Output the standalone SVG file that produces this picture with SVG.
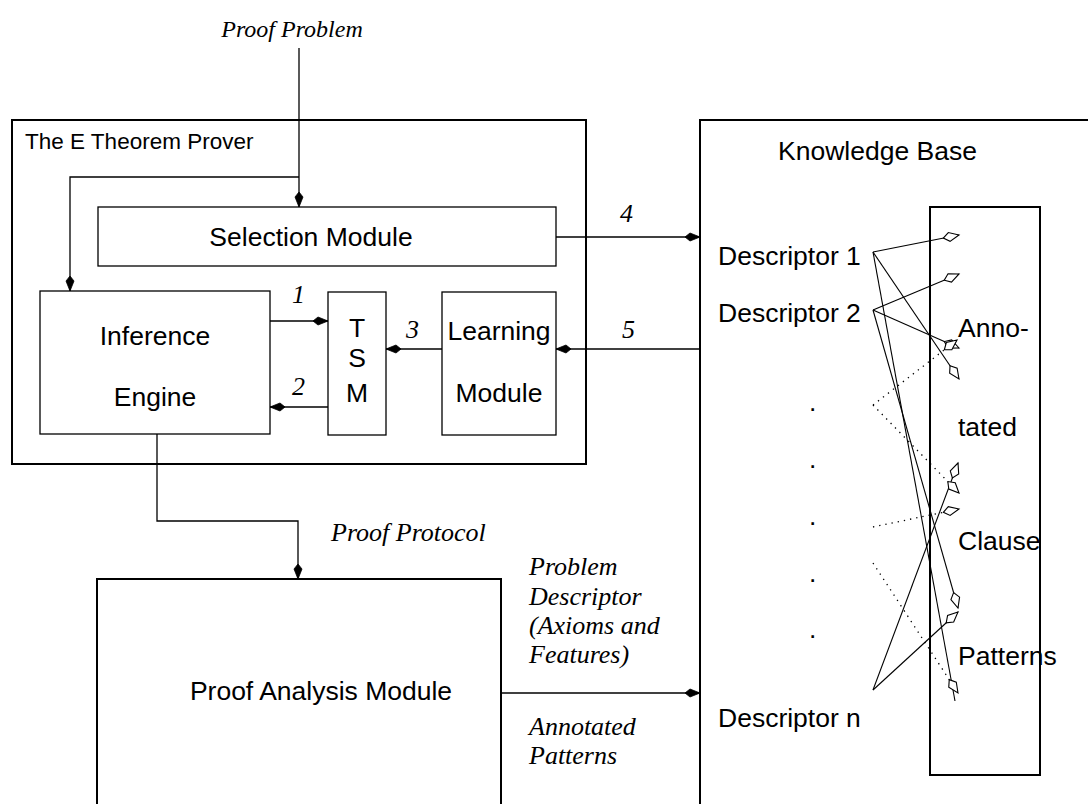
<svg xmlns="http://www.w3.org/2000/svg" width="1088" height="804" viewBox="0 0 1088 804">
  <style>
    .box { fill: none; stroke: #000; stroke-width: 1.3; }
    .bold { fill: none; stroke: #000; stroke-width: 2; }
    .wire { fill: none; stroke: #000; stroke-width: 1.3; }
    .link { fill: none; stroke: #000; stroke-width: 1.1; }
    .dot { fill: none; stroke: #000; stroke-width: 1.3; stroke-dasharray: 1.3 5; }
    .sans { font-family: "Liberation Sans", Arial, sans-serif; font-size: 26.5px; fill: #000; }
    .small { font-family: "Liberation Sans", Arial, sans-serif; font-size: 22.5px; fill: #000; }
    .it { font-family: "Liberation Serif", "Times New Roman", serif; font-style: italic; font-size: 26px; fill: #000; }
    .mid { text-anchor: middle; }
  </style>
  <defs>
    <marker id="solid" markerUnits="userSpaceOnUse" markerWidth="20" markerHeight="12" viewBox="-16 -6 17 12" refX="0" refY="0" orient="auto">
      <path d="M0,0 L-10,-4 L-15,0 L-10,4 Z" fill="#000" stroke="#000" stroke-width="0.8"/>
    </marker>
    <marker id="open" markerUnits="userSpaceOnUse" markerWidth="20" markerHeight="12" viewBox="-17 -6 18 12" refX="0" refY="0" orient="auto">
      <path d="M0,0 L-10,-4.5 L-16,0 L-10,4.5 Z" fill="#fff" stroke="#000" stroke-width="1.1"/>
    </marker>
  </defs>

  <!-- prover frame -->
  <g id="prover">
    <rect class="bold" x="12" y="120" width="574" height="344"/>
    <text class="small" x="25" y="149">The E Theorem Prover</text>
  </g>

  <g id="selection">
    <rect class="box" x="98" y="207" width="458" height="59"/>
    <text class="sans mid" x="311" y="246">Selection Module</text>
  </g>

  <g id="inference">
    <rect class="box" x="40" y="291" width="230" height="143"/>
    <text class="sans mid" x="155" y="345">Inference</text>
    <text class="sans mid" x="155" y="406">Engine</text>
  </g>

  <g id="tsm">
    <rect class="box" x="328" y="292" width="58" height="143"/>
    <text class="sans mid" x="357" y="337">T</text>
    <text class="sans mid" x="357" y="367">S</text>
    <text class="sans mid" x="357" y="402">M</text>
  </g>

  <g id="learning">
    <rect class="box" x="442" y="292" width="114" height="143"/>
    <text class="sans mid" x="499" y="340">Learning</text>
    <text class="sans mid" x="499" y="402">Module</text>
  </g>

  <g id="analysis">
    <rect class="bold" x="97" y="579" width="404" height="240"/>
    <text class="sans mid" x="321" y="700">Proof Analysis Module</text>
  </g>

  <!-- knowledge base with its descriptors -->
  <g id="knowledge-base">
    <rect class="bold" x="700" y="120" width="400" height="700"/>
    <text class="sans" x="778" y="160">Knowledge Base</text>
    <text class="sans" x="718" y="265">Descriptor 1</text>
    <text class="sans" x="718" y="322">Descriptor 2</text>
    <text class="sans" x="809" y="411">.</text>
    <text class="sans" x="809" y="468">.</text>
    <text class="sans" x="809" y="525">.</text>
    <text class="sans" x="809" y="582">.</text>
    <text class="sans" x="809" y="638">.</text>
    <text class="sans" x="718" y="727">Descriptor n</text>
  </g>

  <g id="patterns">
    <rect class="bold" x="930" y="207" width="110" height="568"/>
    <text class="sans" x="958" y="337">Anno-</text>
    <text class="sans" x="958" y="436">tated</text>
    <text class="sans" x="958" y="550">Clause</text>
    <text class="sans" x="958" y="665">Patterns</text>
  </g>

  <!-- data flow between the modules -->
  <g id="connectors">
    <text class="it mid" x="292" y="37" style="font-size:24px">Proof Problem</text>
    <polyline class="wire" points="299,48 299,207" marker-end="url(#solid)"/>
    <polyline class="wire" points="299,177 70,177 70,291" marker-end="url(#solid)"/>

    <line class="wire" x1="556" y1="237" x2="700" y2="237" marker-end="url(#solid)"/>
    <text class="it" x="620" y="222">4</text>

    <line class="wire" x1="270" y1="321" x2="328" y2="321" marker-end="url(#solid)"/>
    <text class="it" x="292" y="303">1</text>
    <line class="wire" x1="328" y1="407" x2="270" y2="407" marker-end="url(#solid)"/>
    <text class="it" x="292" y="395">2</text>

    <line class="wire" x1="442" y1="349" x2="386" y2="349" marker-end="url(#solid)"/>
    <text class="it" x="406" y="338">3</text>
    <line class="wire" x1="700" y1="349" x2="556" y2="349" marker-end="url(#solid)"/>
    <text class="it" x="622" y="338">5</text>

    <polyline class="wire" points="157,434 157,521 298,521 298,579" marker-end="url(#solid)"/>
    <text class="it" x="331" y="541">Proof Protocol</text>

    <line class="wire" x1="501" y1="693" x2="700" y2="693" marker-end="url(#solid)"/>
    <text class="it" x="529" y="575">Problem</text>
    <text class="it" x="529" y="605">Descriptor</text>
    <text class="it" x="529" y="634">(Axioms and</text>
    <text class="it" x="529" y="663">Features)</text>
    <text class="it" x="529" y="735">Annotated</text>
    <text class="it" x="529" y="764">Patterns</text>

    <!-- descriptor to pattern links -->
    <line class="link" x1="873" y1="252" x2="959" y2="235" marker-end="url(#open)"/>
    <line class="link" x1="873" y1="252" x2="959" y2="379" marker-end="url(#open)"/>
    <line class="link" x1="873" y1="252" x2="955" y2="701"/>
    <line class="link" x1="873" y1="310" x2="959" y2="274" marker-end="url(#open)"/>
    <line class="link" x1="873" y1="310" x2="959" y2="348" marker-end="url(#open)"/>
    <line class="link" x1="873" y1="310" x2="958" y2="608" marker-end="url(#open)"/>
    <line class="link" x1="873" y1="690" x2="958" y2="463" marker-end="url(#open)"/>
    <line class="link" x1="873" y1="690" x2="958" y2="612" marker-end="url(#open)"/>

    <line class="dot" x1="873" y1="405" x2="957" y2="340" marker-end="url(#open)"/>
    <line class="dot" x1="873" y1="405" x2="959" y2="493" marker-end="url(#open)"/>
    <line class="dot" x1="873" y1="527" x2="959" y2="509" marker-end="url(#open)"/>
    <line class="dot" x1="873" y1="563" x2="958" y2="693" marker-end="url(#open)"/>
  </g>
</svg>
